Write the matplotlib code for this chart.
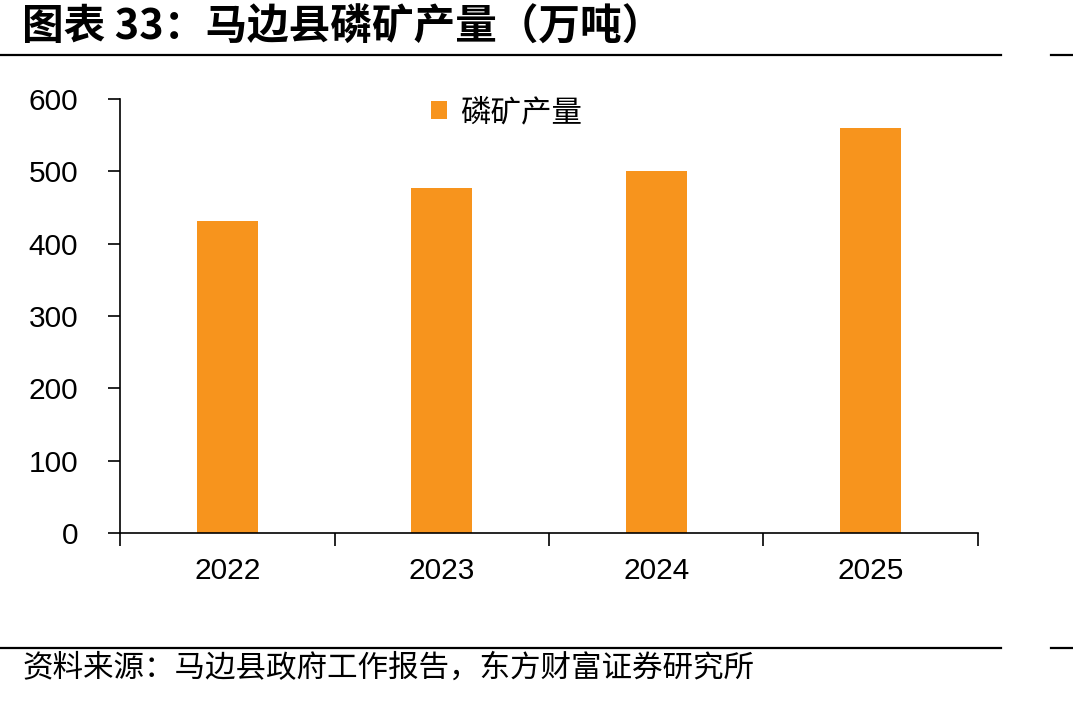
import numpy as np
import matplotlib.pyplot as plt
from matplotlib.lines import Line2D

years = ['2022', '2023', '2024', '2025']
output = [432, 477, 501, 560]
series_name = '磷矿产量'
y_ticks = [0, 100, 200, 300, 400, 500, 600]

plt.rcParams['font.family'] = ['Liberation Sans', 'Noto Sans CJK SC', 'DejaVu Sans']

W, H = 1073, 701
fig = plt.figure(figsize=(W / 100, H / 100), dpi=100)
ax = fig.add_axes([120 / W, 1 - 533 / H, (978 - 120) / W, (533 - 99) / H])

x = np.arange(len(years))
ax.bar(x, output, width=0.285, color='#F7941D', label=series_name, zorder=2)

ax.set_xlim(-0.5, len(years) - 0.5)
ax.set_ylim(0, 600)
ax.set_yticks(y_ticks)
ax.set_xticks(x)
ax.set_xticklabels(years)
ax.set_xticks(np.arange(len(years) + 1) - 0.5, minor=True)
ax.tick_params(axis='x', which='major', length=0, pad=17, labelsize=21.5)
ax.tick_params(axis='x', which='minor', length=9, width=1.2, direction='out')
ax.tick_params(axis='y', length=9, width=1.2, labelsize=21.5, pad=21)
for s in ['top', 'right']:
    ax.spines[s].set_visible(False)
ax.spines['left'].set_linewidth(1.2)
ax.spines['bottom'].set_linewidth(1.2)

leg = ax.legend(loc='upper left', bbox_to_anchor=(0.33, 1.068), frameon=False,
                handlelength=0.55, handleheight=0.55, handletextpad=0.4,
                prop={'family': ['Noto Sans CJK SC'], 'size': 22})

fig.text(22 / W, 1 - 28 / H, '图表 33：马边县磷矿产量（万吨）', fontsize=30,
         fontweight='bold', family=['Noto Sans CJK SC', 'DejaVu Sans'],
         va='center', ha='left')
fig.text(22 / W, 1 - 668 / H, '资料来源：马边县政府工作报告，东方财富证券研究所',
         fontsize=22, family=['Noto Sans CJK SC', 'DejaVu Sans'],
         va='center', ha='left')

for yy in [55, 648]:
    fig.add_artist(Line2D([0, 1001 / W], [1 - yy / H] * 2, color='black', lw=1.6))
    fig.add_artist(Line2D([1051 / W, 1], [1 - yy / H] * 2, color='black', lw=1.6))

fig.savefig('out.png', dpi=100)
